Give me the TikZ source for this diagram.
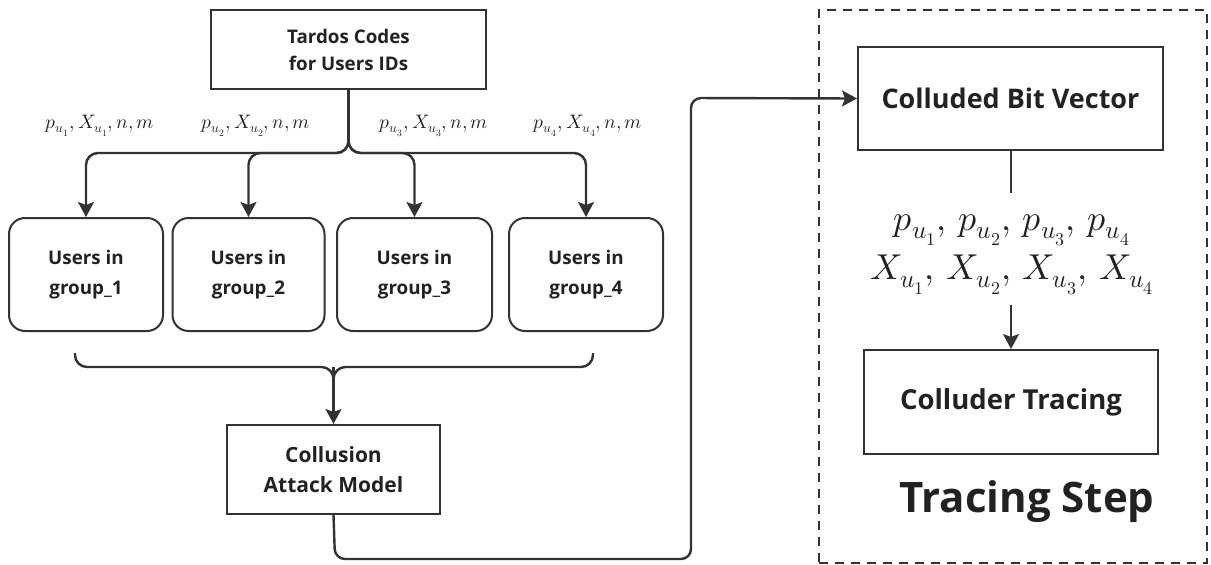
\documentclass[tikz,border=0pt]{standalone}
\usepackage{fontspec}
\usepackage{unicode-math}
\setmainfont{Open Sans}
\setmathfont{Latin Modern Math}
\usetikzlibrary{arrows.meta}
\definecolor{ink}{HTML}{333333}
\definecolor{txt}{HTML}{222222}
\newcommand{\gap}{\mkern3mu}
\begin{document}
\begin{tikzpicture}[x=1pt,y=-1pt,
  boxline/.style={draw=ink, line width=2pt},
  sqbox/.style={boxline, rectangle, inner sep=0pt, align=center, text=txt,
                font=\bfseries\fontsize{18.8}{27}\selectfont},
  grpbox/.style={sqbox, rounded corners=16pt, font=\bfseries\fontsize{18.8}{30}\selectfont},
  conn/.style={draw=ink, line width=2.4pt, rounded corners=12pt},
  tip/.style={-{Stealth[length=15pt,width=16pt,inset=3pt]}},
  lbl/.style={font=\fontsize{19.5}{24}\selectfont, inner sep=0pt, text=txt, anchor=base},
  bigmath/.style={font=\fontsize{36}{42}\selectfont, inner sep=0pt, text=txt, anchor=base}
]
\useasboundingbox (0,0) rectangle (1211,565);

% left part: code generation, groups and collusion
\node[sqbox, minimum width=275pt, minimum height=79pt] (tardos) at (348.5,49.5)
  {Tardos Codes\\for Users IDs};

\node[grpbox, minimum width=154pt, minimum height=113pt] (g1) at (86,274.5)  {Users in\\group\_1};
\node[grpbox, minimum width=152pt, minimum height=113pt] (g2) at (248.5,274.5) {Users in\\group\_2};
\node[grpbox, minimum width=155pt, minimum height=113pt] (g3) at (414.5,274.5) {Users in\\group\_3};
\node[grpbox, minimum width=154pt, minimum height=113pt] (g4) at (586,274.5) {Users in\\group\_4};

\node[sqbox, minimum width=213pt, minimum height=89pt,
      font=\bfseries\fontsize{21}{30}\selectfont] (collusion) at (333.5,469.5)
  {Collusion\\Attack Model};

\node[lbl] (l1) at (100,128) {$p_{u_1},X_{u_1},n,m$};
\node[lbl] (l2) at (256,128) {$p_{u_2},X_{u_2},n,m$};
\node[lbl] (l3) at (434,128) {$p_{u_3},X_{u_3},n,m$};
\node[lbl] (l4) at (588,128) {$p_{u_4},X_{u_4},n,m$};

% distribution tree
\coordinate (spine) at (348.5,153);
\foreach \g in {g1,g2,g3,g4}
  \draw[conn, tip] (tardos.south) -- (spine) -| (\g.north);

% brace gathering the groups
\coordinate (bl) at (75,353);
\coordinate (br) at (593,353);
\coordinate (bm) at (333.5,367);
\draw[conn] (bl) |- (bm) -- ++(0,14);
\draw[conn] (br) |- (bm) -- ++(0,14);
\draw[conn, tip] (bm) -- (collusion.north);

% tracing step
\node[draw=ink, line width=2pt, dash pattern=on 9pt off 7pt, rectangle,
      minimum width=388pt, minimum height=553pt, inner sep=0pt] (frame) at (1013,286.5) {};

\node[sqbox, minimum width=305pt, minimum height=103pt,
      font=\bfseries\fontsize{27}{32}\selectfont] (colluded) at (1010.5,98.5)
  {Colluded Bit Vector};
\node[sqbox, minimum width=294pt, minimum height=104pt,
      font=\bfseries\fontsize{27.5}{32}\selectfont] (tracer) at (1011,402)
  {Colluder Tracing};

\node[bigmath] (pvec) at (1012,230) {$p_{u_1},\gap p_{u_2},\gap p_{u_3},\gap p_{u_4}$};
\node[bigmath] (xvec) at (1012,279) {$X_{u_1},\gap X_{u_2},\gap X_{u_3},\gap X_{u_4}$};

\coordinate (vecin) at (1010.5,193);
\coordinate (vecout) at (1011,305);
\draw[draw=ink, line width=2pt] (colluded.south) -- (vecin);
\draw[draw=ink, line width=2pt, tip] (vecout) -- (tracer.north);

\node[inner sep=0pt, text=txt, font=\bfseries\fontsize{42}{48}\selectfont] (steptitle)
  at (1027,502) {Tracing Step};

% collusion output to the tracing step
\draw[conn, tip, rounded corners=10pt] (collusion.south) -- (335,559) -- (691,559)
  -- (691,98) -- (colluded.west);
\end{tikzpicture}
\end{document}
